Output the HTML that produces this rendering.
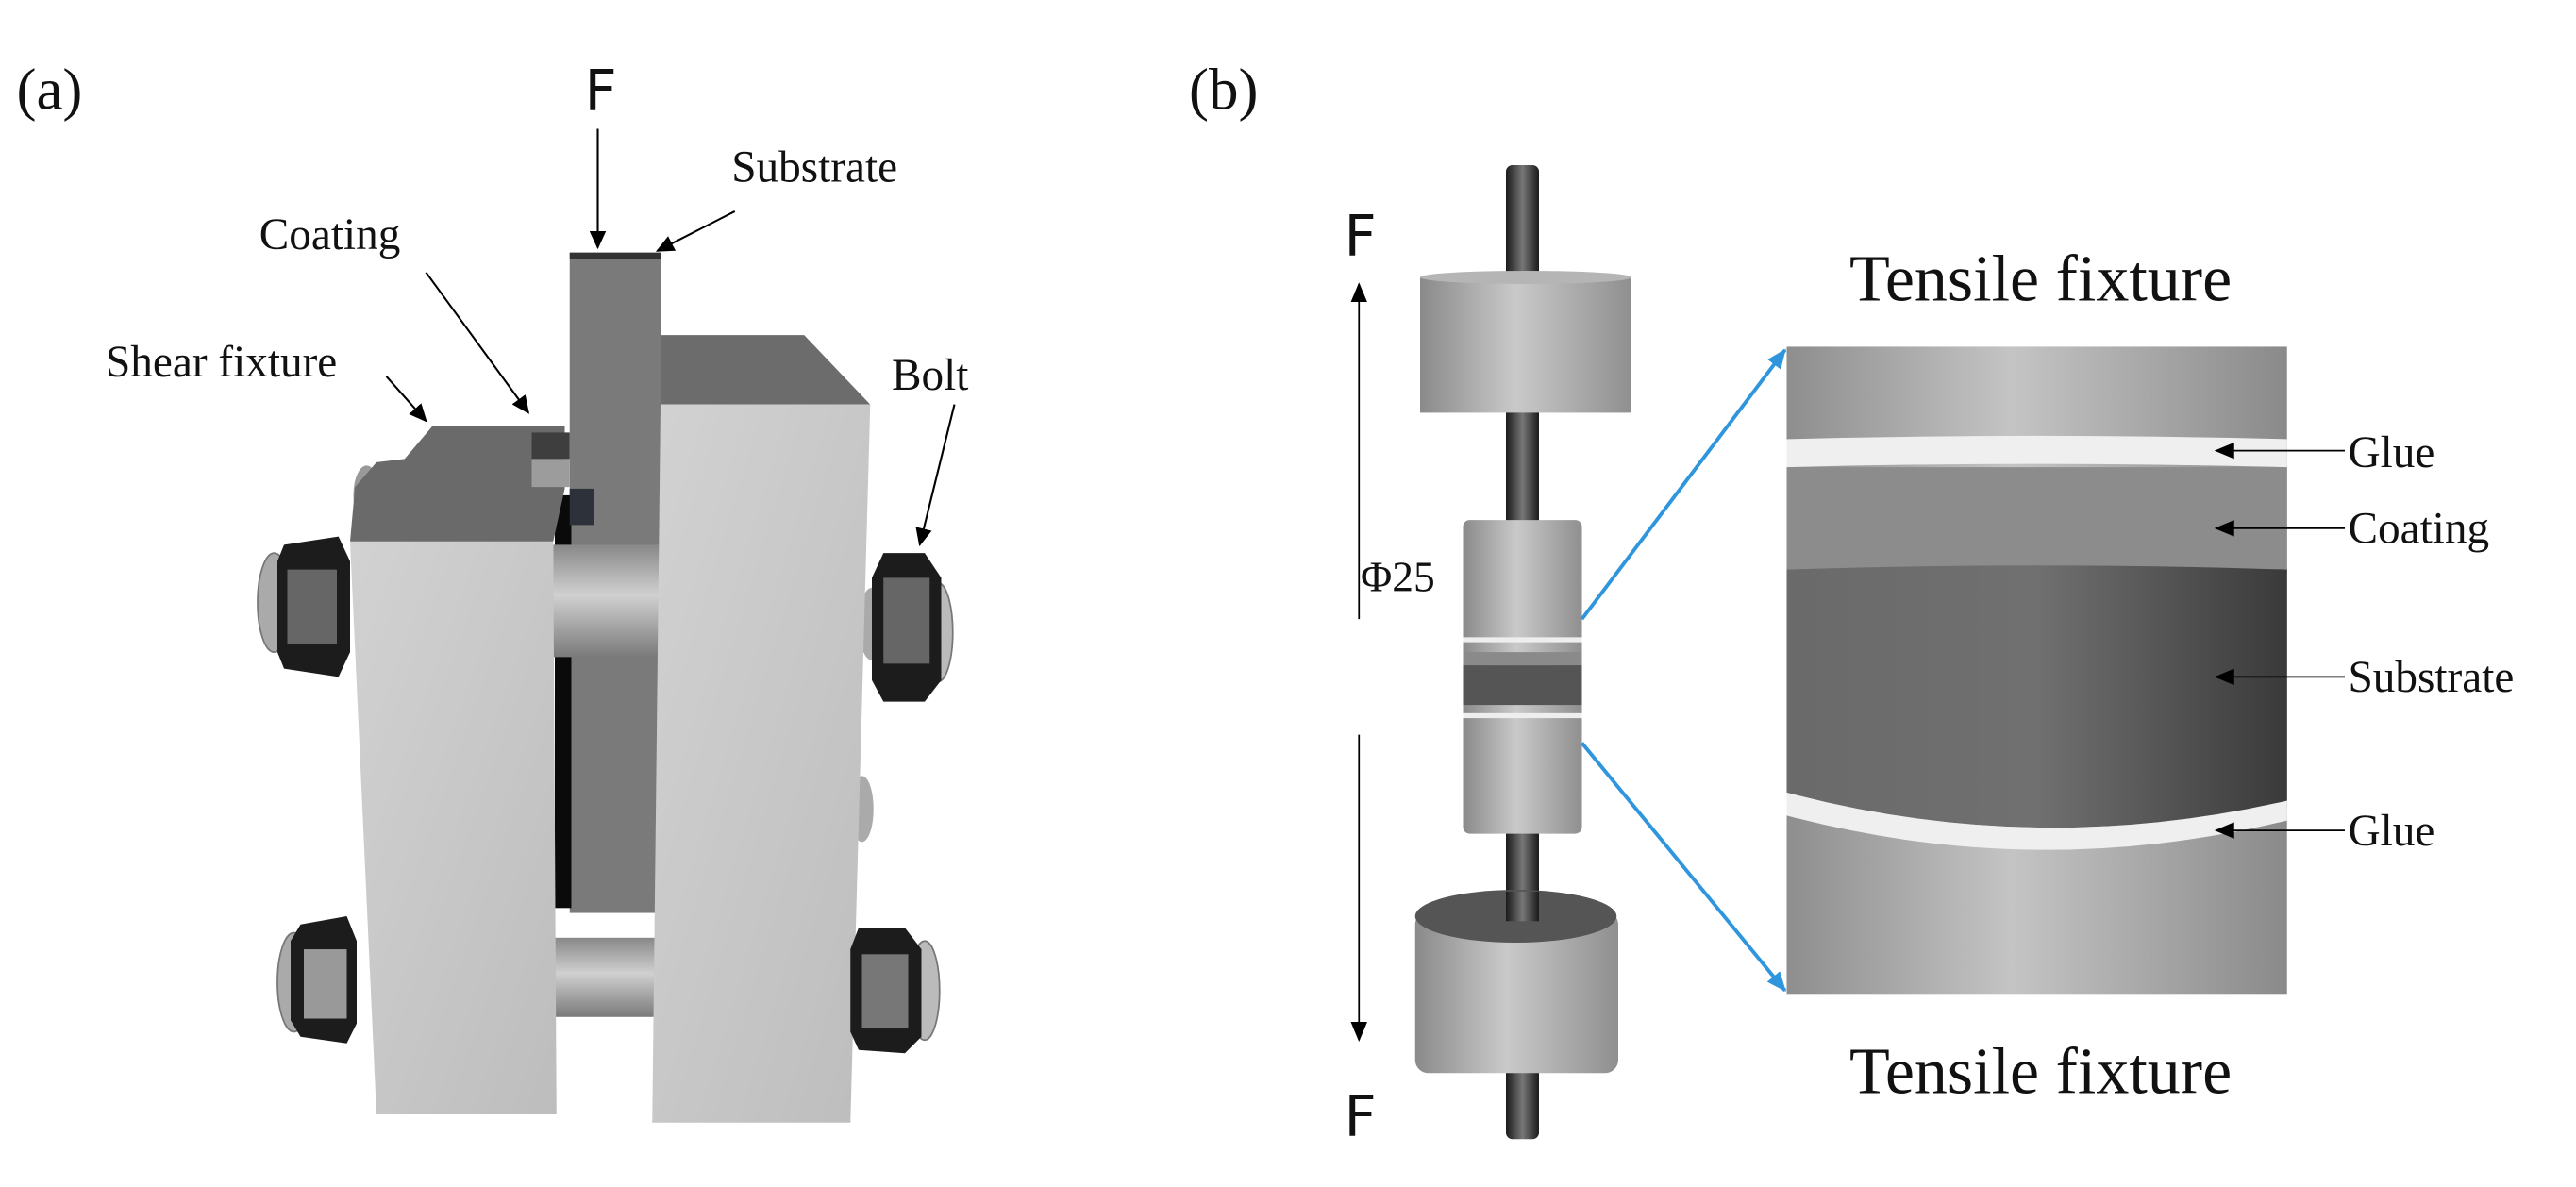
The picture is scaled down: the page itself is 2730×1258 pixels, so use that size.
<!DOCTYPE html>
<html><head><meta charset="utf-8"><style>
html,body{margin:0;padding:0;background:#fff;}
svg{display:block;}
.s{font-family:"Liberation Serif",serif;fill:#111;}
.f{font-family:"DejaVu Sans","Liberation Sans",sans-serif;fill:#111;}
</style></head><body>
<svg width="2730" height="1258" viewBox="0 0 1560 719" preserveAspectRatio="none" xmlns="http://www.w3.org/2000/svg">
<defs>
<marker id="ah" markerWidth="11" markerHeight="10" refX="10" refY="5" orient="auto" markerUnits="userSpaceOnUse"><path d="M0,0 L11,5 L0,10 Z" fill="#000"/></marker>
<marker id="bh" markerWidth="12" markerHeight="10" refX="11" refY="5" orient="auto" markerUnits="userSpaceOnUse"><path d="M0,0 L12,5 L0,10 Z" fill="#000"/></marker>
<marker id="blue" markerWidth="12" markerHeight="10" refX="11" refY="5" orient="auto" markerUnits="userSpaceOnUse"><path d="M0,0 L12,5 L0,10 Z" fill="#2f95dc"/></marker>
<linearGradient id="cyl" x1="0" x2="1"><stop offset="0" stop-color="#8a8a8a"/><stop offset="0.45" stop-color="#c9c9c9"/><stop offset="1" stop-color="#8f8f8f"/></linearGradient>
<linearGradient id="rod" x1="0" x2="1"><stop offset="0" stop-color="#1a1a1a"/><stop offset="0.5" stop-color="#777"/><stop offset="1" stop-color="#1a1a1a"/></linearGradient>
<linearGradient id="sub" x1="0" x2="1"><stop offset="0" stop-color="#6a6a6a"/><stop offset="0.5" stop-color="#707070"/><stop offset="1" stop-color="#3a3a3a"/></linearGradient>
<linearGradient id="big" x1="0" x2="1"><stop offset="0" stop-color="#8e8e8e"/><stop offset="0.45" stop-color="#c4c4c4"/><stop offset="1" stop-color="#8a8a8a"/></linearGradient>
<linearGradient id="pin" x1="0" y1="0" x2="0" y2="1"><stop offset="0" stop-color="#888"/><stop offset="0.45" stop-color="#d0d0d0"/><stop offset="1" stop-color="#7a7a7a"/></linearGradient>
<linearGradient id="blk" x1="0" y1="0" x2="1" y2="1"><stop offset="0" stop-color="#d2d2d2"/><stop offset="1" stop-color="#bdbdbd"/></linearGradient>
</defs>

<text x="10" y="66" class="s" font-size="36">(a)</text>
<text x="354" y="67" class="f" font-size="34">F</text>
<line x1="362" y1="78" x2="362" y2="150" stroke="#000" stroke-width="1.2" marker-end="url(#ah)"/>
<text x="443" y="110" class="s" font-size="27">Substrate</text>
<line x1="445" y1="128" x2="398" y2="152" stroke="#000" stroke-width="1.2" marker-end="url(#ah)"/>
<text x="157" y="151" class="s" font-size="27">Coating</text>
<line x1="258" y1="165" x2="320" y2="250" stroke="#000" stroke-width="1.2" marker-end="url(#ah)"/>
<text x="64" y="228" class="s" font-size="27">Shear fixture</text>
<line x1="234" y1="228" x2="258" y2="255" stroke="#000" stroke-width="1.2" marker-end="url(#ah)"/>
<text x="540" y="236" class="s" font-size="27">Bolt</text>
<line x1="578" y1="245" x2="557" y2="330" stroke="#000" stroke-width="1.2" marker-end="url(#ah)"/>

<ellipse cx="222" cy="300" rx="8" ry="18" fill="#999"/>
<ellipse cx="528" cy="378" rx="8" ry="22" fill="#aaa"/>
<ellipse cx="522" cy="490" rx="7" ry="20" fill="#aaa"/>
<rect x="345" y="153" width="55" height="400" fill="#7a7a7a"/>
<rect x="345" y="153" width="55" height="4" fill="#333"/>
<rect x="336" y="300" width="10" height="250" fill="#0a0a0a"/>
<rect x="335" y="330" width="65" height="68" fill="url(#pin)"/>
<rect x="335" y="568" width="65" height="48" fill="url(#pin)"/>
<polygon points="212,328 335,328 342,296 342,258 262,258 245,278 228,280 215,295" fill="#6a6a6a"/>
<rect x="322" y="262" width="23" height="16" fill="#3e3e3e"/>
<rect x="322" y="278" width="23" height="17" fill="#9c9c9c"/>
<rect x="345" y="296" width="15" height="22" fill="#2c313a"/>
<polygon points="212,328 335,328 337,675 228,675" fill="url(#blk)"/>
<polygon points="400,245 400,203 487,203 527,245" fill="#6c6c6c"/>
<polygon points="400,245 527,245 515,680 395,680" fill="url(#blk)"/>
<g>
<ellipse cx="166" cy="365" rx="10" ry="30" fill="#aaa" stroke="#777"/>
<polygon points="172,330 205,325 212,340 212,395 205,410 172,405 168,395 168,340" fill="#1c1c1c"/>
<rect x="174" y="345" width="30" height="45" fill="#666"/>
<ellipse cx="178" cy="595" rx="10" ry="30" fill="#aaa" stroke="#777"/>
<polygon points="182,560 210,555 216,570 216,620 210,632 182,628 176,618 176,570" fill="#1c1c1c"/>
<rect x="184" y="575" width="26" height="42" fill="#999"/>
<ellipse cx="568" cy="383" rx="9" ry="30" fill="#bbb" stroke="#777"/>
<polygon points="535,335 560,335 570,350 570,412 560,425 535,425 528,412 528,350" fill="#1c1c1c"/>
<rect x="535" y="350" width="28" height="52" fill="#666"/>
<ellipse cx="560" cy="600" rx="9" ry="30" fill="#bbb" stroke="#777"/>
<polygon points="520,562 548,562 558,575 558,628 548,638 520,636 515,625 515,575" fill="#1c1c1c"/>
<rect x="522" y="578" width="28" height="45" fill="#777"/>
</g>

<text x="720" y="66" class="s" font-size="36">(b)</text>
<rect x="912" y="100" width="20" height="590" rx="4" fill="url(#rod)"/>
<rect x="860" y="168" width="128" height="82" fill="url(#cyl)"/>
<ellipse cx="924" cy="168" rx="64" ry="4" fill="#b5b5b5"/>
<rect x="886" y="315" width="72" height="190" rx="4" fill="url(#cyl)"/>
<rect x="886" y="395" width="72" height="8" fill="#8a8a8a"/>
<rect x="886" y="403" width="72" height="24" fill="#555"/>
<rect x="886" y="386" width="72" height="3" fill="#eee"/>
<rect x="886" y="432" width="72" height="3" fill="#eee"/>
<rect x="857" y="552" width="123" height="98" rx="8" fill="url(#cyl)"/>
<ellipse cx="918" cy="555" rx="61" ry="16" fill="#555"/>
<rect x="912" y="540" width="20" height="18" fill="url(#rod)"/>
<text x="814" y="155" class="f" font-size="34">F</text>
<text x="814" y="688" class="f" font-size="34">F</text>
<line x1="823" y1="375" x2="823" y2="172" stroke="#000" stroke-width="1" marker-end="url(#bh)"/>
<line x1="823" y1="445" x2="823" y2="630" stroke="#000" stroke-width="1" marker-end="url(#bh)"/>
<text x="824" y="358" class="s" font-size="26">Φ25</text>
<line x1="958" y1="375" x2="1081" y2="212" stroke="#2f95dc" stroke-width="2.2" marker-end="url(#blue)"/>
<line x1="958" y1="450" x2="1081" y2="600" stroke="#2f95dc" stroke-width="2.2" marker-end="url(#blue)"/>

<text x="1120" y="182" class="s" font-size="40">Tensile fixture</text>
<text x="1120" y="662" class="s" font-size="40">Tensile fixture</text>
<rect x="1082" y="210" width="303" height="392" fill="url(#big)"/>
<rect x="1082" y="283" width="303" height="65" fill="#8c8c8c"/>
<path d="M1082,345 Q1233,340 1385,345 L1385,485 Q1233,520 1082,480 Z" fill="url(#sub)"/>
<path d="M1082,266 Q1233,262 1385,266 L1385,283 Q1233,279 1082,283 Z" fill="#efefef"/>
<path d="M1082,480 Q1233,520 1385,485 L1385,497 Q1233,534 1082,494 Z" fill="#efefef"/>

<g stroke="#000" stroke-width="1">
<line x1="1420" y1="273" x2="1342" y2="273" marker-end="url(#bh)"/>
<line x1="1420" y1="320" x2="1342" y2="320" marker-end="url(#bh)"/>
<line x1="1420" y1="410" x2="1342" y2="410" marker-end="url(#bh)"/>
<line x1="1420" y1="503" x2="1342" y2="503" marker-end="url(#bh)"/>
</g>
<text x="1422" y="283" class="s" font-size="27">Glue</text>
<text x="1422" y="329" class="s" font-size="27">Coating</text>
<text x="1422" y="419" class="s" font-size="27">Substrate</text>
<text x="1422" y="512" class="s" font-size="27">Glue</text>
</svg>
</body></html>
